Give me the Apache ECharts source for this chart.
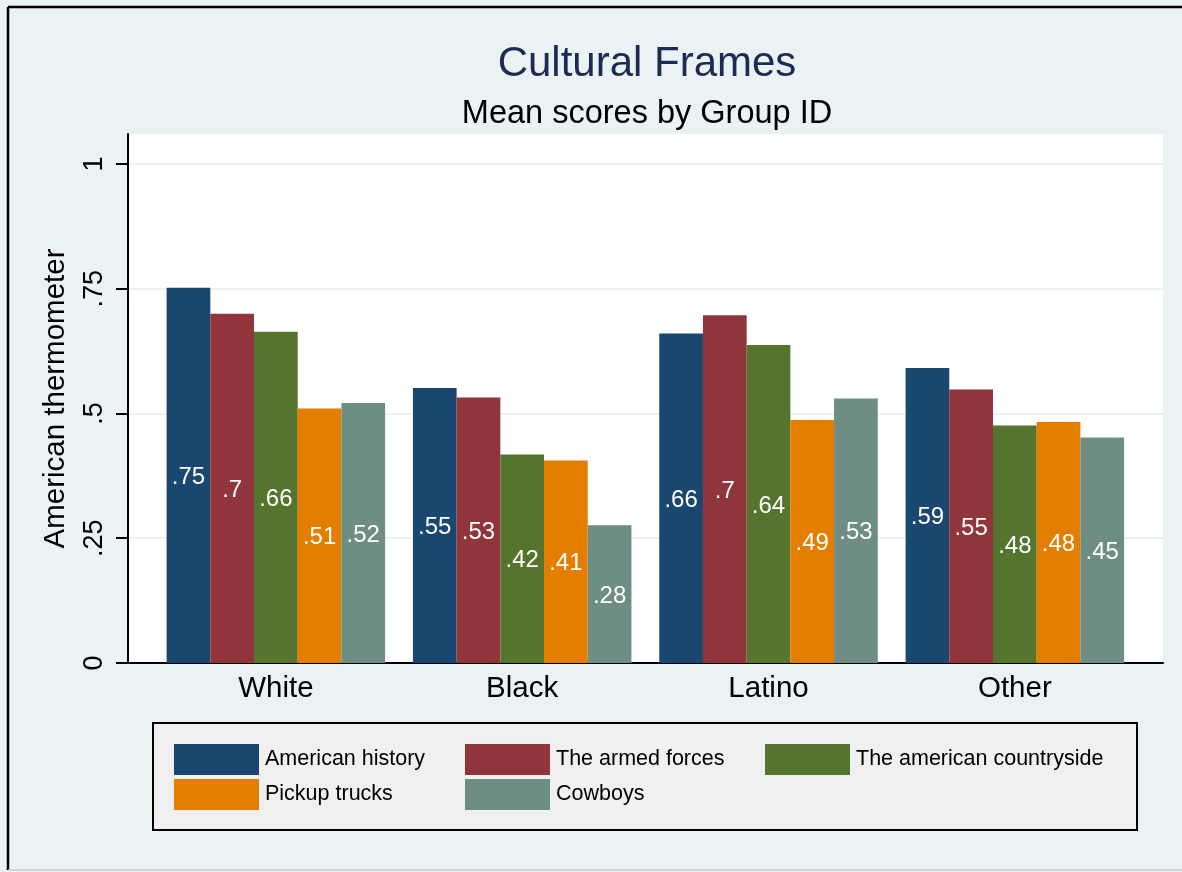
<!DOCTYPE html>
<html>
<head>
<meta charset="utf-8">
<script src="https://cdn.jsdelivr.net/npm/echarts@6/dist/echarts.min.js"></script>
<style>
  html, body { margin: 0; padding: 0; background: #eaf2f3; }
  #chart { width: 1182px; height: 872px; }
</style>
</head>
<body>
<div id="chart"></div>
<script>
const groups = ['White', 'Black', 'Latino', 'Other']
const americanHistory = [0.752, 0.551, 0.660, 0.591]
const armedForces     = [0.700, 0.532, 0.697, 0.548]
const countryside     = [0.664, 0.418, 0.637, 0.476]
const pickupTrucks    = [0.510, 0.406, 0.487, 0.483]
const cowboys         = [0.521, 0.276, 0.530, 0.452]
const yTicks = [0, 0.25, 0.5, 0.75, 1]

const seriesData = [
  { name: 'American history',          data: americanHistory, color: '#1a476f' },
  { name: 'The armed forces',          data: armedForces,     color: '#90353b' },
  { name: 'The american countryside',  data: countryside,     color: '#55752f' },
  { name: 'Pickup trucks',             data: pickupTrucks,    color: '#e37e00' },
  { name: 'Cowboys',                   data: cowboys,         color: '#6e8e84' },
]

const FONT = "'Liberation Sans', Arial, sans-serif"
const stataNum = v => {
  const s = String(Math.round(v * 100) / 100)
  return s.replace(/^0(?=\.)/, '')
}

// legend slots: [left, top]
const legendPos = [[174, 744], [465, 744], [765, 744], [174, 779], [465, 779]]

const chart = echarts.init(document.getElementById('chart'), null, { renderer: 'canvas' })
chart.setOption({
  backgroundColor: '#eaf2f3',
  animation: false,
  textStyle: { fontFamily: FONT },
  title: [
    { text: 'Cultural Frames', left: 642, top: 38, textAlign: 'center',
      textStyle: { fontFamily: FONT, fontSize: 42, fontWeight: 'normal', color: '#1e2a56' } },
    { text: 'Mean scores by Group ID', left: 642, top: 93, textAlign: 'center',
      textStyle: { fontFamily: FONT, fontSize: 32.5, fontWeight: 'normal', color: '#000' } },
  ],
  grid: [
    { left: 128, right: 19, top: 134, bottom: 209, show: true, backgroundColor: '#fff', borderWidth: 0 },
    { left: 152.7, right: 44, top: 134, bottom: 209 },
  ],
  xAxis: [
    { gridIndex: 0, type: 'category', data: groups,
      axisLine: { lineStyle: { color: '#000', width: 2 } },
      axisTick: { show: false }, axisLabel: { show: false } },
    { gridIndex: 1, type: 'category', data: groups,
      axisLine: { show: false }, axisTick: { show: false },
      axisLabel: { color: '#000', fontSize: 29.5, fontFamily: FONT, margin: 11 } },
  ],
  yAxis: [
    { gridIndex: 0, type: 'value', min: 0, max: 1.06, interval: 0.25,
      name: 'American thermometer', nameLocation: 'middle', nameGap: 57,
      nameTextStyle: { color: '#000', fontSize: 29.5, fontFamily: FONT },
      axisLine: { show: true, lineStyle: { color: '#000', width: 2 } },
      axisTick: { show: true, length: 12, lineStyle: { color: '#000', width: 2 }, customValues: yTicks },
      axisLabel: { color: '#000', fontSize: 27, fontFamily: FONT, rotate: 90, margin: 20,
        customValues: yTicks, formatter: v => stataNum(v) },
      splitLine: { lineStyle: { color: '#eaf2f3', width: 2 } } },
    { gridIndex: 1, type: 'value', min: 0, max: 1.06, show: false, splitLine: { show: false } },
  ],
  legend: seriesData.map((s, i) => ({
    data: [s.name],
    left: legendPos[i][0], top: legendPos[i][1],
    orient: 'horizontal', padding: 0,
    itemWidth: 85, itemHeight: 31, icon: 'rect',
    selectedMode: false,
    textStyle: { color: '#000', fontSize: 21.5, fontFamily: FONT, padding: [3, 0, 0, 1] },
  })),
  graphic: [
    { type: 'rect', z: -1, shape: { x: 153, y: 723, width: 984, height: 107 },
      style: { fill: '#f0f0f0', stroke: '#000', lineWidth: 2 } },
    { type: 'line', shape: { x1: 8, y1: 7, x2: 8, y2: 870 }, style: { stroke: '#000', lineWidth: 2.5 } },
    { type: 'line', shape: { x1: 8, y1: 7, x2: 1182, y2: 7 }, style: { stroke: '#000', lineWidth: 2.5 } },
    { type: 'line', shape: { x1: 8, y1: 870, x2: 1182, y2: 870 }, style: { stroke: '#c8c8c8', lineWidth: 1.5 } },
  ],
  series: seriesData.map(s => ({
    name: s.name,
    type: 'bar',
    xAxisIndex: 1, yAxisIndex: 1,
    data: s.data,
    barWidth: 43.7,
    barGap: 0,
    itemStyle: { color: s.color },
    label: {
      show: true, position: 'inside', color: '#fff',
      fontSize: 24, fontFamily: FONT, offset: [0, 2],
      formatter: p => stataNum(p.value),
    },
  })),
})
</script>
</body>
</html>
